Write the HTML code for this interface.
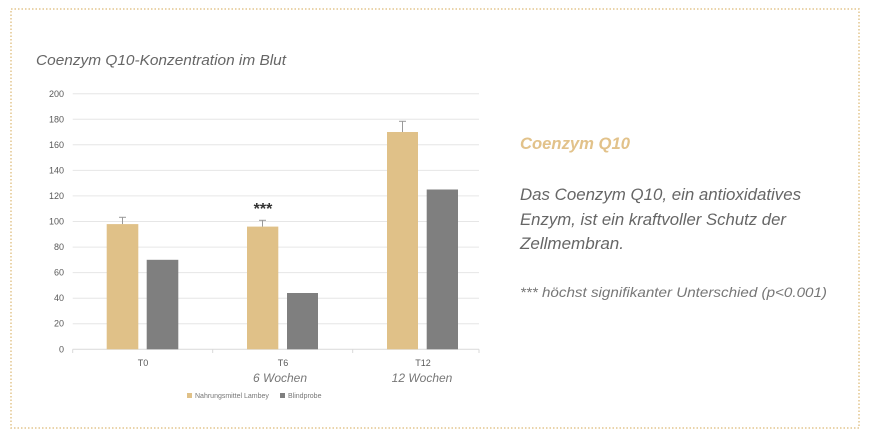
<!DOCTYPE html>
<html><head><meta charset="utf-8"><style>
html,body{margin:0;padding:0;background:#fff;}
svg{display:block;}
text{font-family:"Liberation Sans",sans-serif;}
</style></head><body>
<svg width="870" height="436" viewBox="0 0 870 436" xmlns="http://www.w3.org/2000/svg">
<rect x="11" y="9" width="848" height="419" fill="none" stroke="#e3c58e" stroke-width="1.5" stroke-dasharray="1.5,2"/>
<text x="36" y="65" font-size="15" font-style="italic" fill="#666" textLength="250" lengthAdjust="spacingAndGlyphs">Coenzym Q10-Konzentration im Blut</text>
<g stroke="#e6e6e6" stroke-width="1">
<line x1="72.7" x2="479" y1="93.7" y2="93.7"/>
<line x1="72.7" x2="479" y1="119.3" y2="119.3"/>
<line x1="72.7" x2="479" y1="144.8" y2="144.8"/>
<line x1="72.7" x2="479" y1="170.4" y2="170.4"/>
<line x1="72.7" x2="479" y1="195.9" y2="195.9"/>
<line x1="72.7" x2="479" y1="221.5" y2="221.5"/>
<line x1="72.7" x2="479" y1="247.1" y2="247.1"/>
<line x1="72.7" x2="479" y1="272.6" y2="272.6"/>
<line x1="72.7" x2="479" y1="298.2" y2="298.2"/>
<line x1="72.7" x2="479" y1="323.7" y2="323.7"/>
</g>
<g stroke="#d9d9d9"><line x1="72.7" x2="479" y1="349.3" y2="349.3"/>
<line x1="72.7" x2="72.7" y1="349.3" y2="353"/><line x1="212.7" x2="212.7" y1="349.3" y2="353"/><line x1="352.7" x2="352.7" y1="349.3" y2="353"/><line x1="479" x2="479" y1="349.3" y2="353"/></g>
<g font-size="9" fill="#595959" text-anchor="end">
<text x="64" y="97">200</text><text x="64" y="122.5">180</text><text x="64" y="148">160</text><text x="64" y="173.5">140</text><text x="64" y="199">120</text><text x="64" y="224.5">100</text><text x="64" y="250">80</text><text x="64" y="275.5">60</text><text x="64" y="301">40</text><text x="64" y="326.5">20</text><text x="64" y="352.5">0</text>
</g>
<g stroke="#999" stroke-width="1">
<line x1="122.5" x2="122.5" y1="217.3" y2="224.3"/><line x1="119" x2="126" y1="217.3" y2="217.3"/>
<line x1="262.5" x2="262.5" y1="220.3" y2="226.7"/><line x1="259" x2="266" y1="220.3" y2="220.3"/>
<line x1="402.5" x2="402.5" y1="121.3" y2="132"/><line x1="399" x2="406" y1="121.3" y2="121.3"/>
</g>
<g fill="#e0c188">
<rect x="106.7" y="224.1" width="31.6" height="125.2"/>
<rect x="247" y="226.6" width="31.3" height="122.7"/>
<rect x="387" y="132" width="31" height="217.3"/>
</g>
<g fill="#7f7f7f">
<rect x="146.7" y="259.8" width="31.6" height="89.5"/>
<rect x="287" y="293" width="31" height="56.3"/>
<rect x="426.7" y="189.5" width="31.3" height="159.8"/>
</g>
<text x="263" y="214" font-size="16" font-weight="bold" fill="#333" text-anchor="middle">***</text>
<g font-size="9" fill="#595959" text-anchor="middle">
<text x="143" y="366">T0</text><text x="283" y="366">T6</text><text x="423" y="366">T12</text>
</g>
<g font-size="12" font-style="italic" fill="#777" text-anchor="middle">
<text x="280" y="382">6 Wochen</text><text x="422" y="382">12 Wochen</text>
</g>
<rect x="187" y="393" width="5" height="5" fill="#e0c188"/>
<text x="195" y="398" font-size="7" fill="#777">Nahrungsmittel Lambey</text>
<rect x="280" y="393" width="5" height="5" fill="#7f7f7f"/>
<text x="288" y="398" font-size="7" fill="#777">Blindprobe</text>
<text x="520" y="149" font-size="17" font-weight="bold" font-style="italic" fill="#e2c28a" textLength="110" lengthAdjust="spacingAndGlyphs">Coenzym Q10</text>
<g font-size="16.8" font-style="italic" fill="#666">
<text x="520" y="200" textLength="281" lengthAdjust="spacingAndGlyphs">Das Coenzym Q10, ein antioxidatives</text>
<text x="520" y="225" textLength="266" lengthAdjust="spacingAndGlyphs">Enzym, ist ein kraftvoller Schutz der</text>
<text x="520" y="249" textLength="104" lengthAdjust="spacingAndGlyphs">Zellmembran.</text>
</g>
<text x="520" y="297" font-size="14" font-style="italic" fill="#777" textLength="307" lengthAdjust="spacingAndGlyphs">*** höchst signifikanter Unterschied (p&lt;0.001)</text>
</svg>
</body></html>
